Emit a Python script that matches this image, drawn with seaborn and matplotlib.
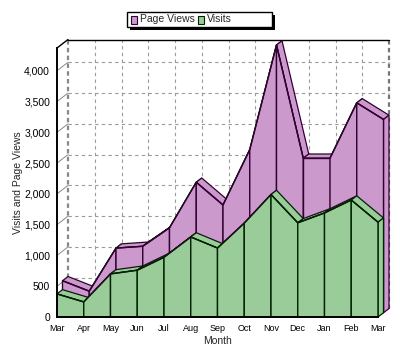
import numpy as np
import matplotlib
matplotlib.use("Agg")
import matplotlib.pyplot as plt
import matplotlib.transforms as mtransforms
from matplotlib.patches import Polygon, Rectangle, ConnectionPatch
from matplotlib.ticker import FuncFormatter, MultipleLocator
import seaborn as sns

# data
months = ["Mar", "Apr", "May", "Jun", "Jul", "Aug", "Sep", "Oct", "Nov", "Dec", "Jan", "Feb", "Mar"]
page_views = [520, 350, 1050, 1080, 1380, 2120, 1750, 2650, 4350, 2510, 2510, 3410, 3140]
visits = [375, 245, 700, 760, 970, 1300, 1120, 1525, 1990, 1530, 1690, 1900, 1540]
series_names = ["Page Views", "Visits"]
fill_colors = ["#CC99CC", "#99CC99"]
edge_colors = ["#330033", "#002200"]

sns.set_style("white")
plt.rcParams["font.family"] = ["Liberation Sans", "DejaVu Sans"]

DPI = 100
W, H = 400, 356
fig = plt.figure(figsize=(W / DPI, H / DPI), dpi=DPI)
ax = fig.add_axes([57 / W, 39 / H, 321 / W, 269 / H])
ax.set_facecolor("none")
ymax = 4370
ax.set_xlim(0, len(months) - 1)
ax.set_ylim(0, ymax)

# 3d depth offsets in pixels (right, up)
WALL = (11, 8.5)
depths = [((5.5, 4.25), WALL), ((0, 0), (5.5, 4.25))]


def shifted(off):
    return ax.transData + mtransforms.ScaledTranslation(off[0] / DPI, off[1] / DPI, fig.dpi_scale_trans)


def px(xv, yv, off):
    p = ax.transData.transform((xv, yv))
    return (p[0] + off[0], p[1] + off[1])


ident = mtransforms.IdentityTransform()
x = np.arange(len(months))
xmax = x[-1]

# back wall with dashed grid
wall = shifted(WALL)
ax.add_patch(Rectangle((0, 0), xmax, ymax, transform=wall, facecolor="white",
                       edgecolor="none", zorder=0, clip_on=False))
yticks = np.arange(0, 4001, 500)
for v in yticks[1:]:
    ax.plot([0, xmax], [v, v], transform=wall, color="#999999", lw=0.8,
            ls=(0, (3, 3)), clip_on=False, zorder=1)
    ax.add_artist(ConnectionPatch((0, v), (0, v), coordsA=ax.transData, coordsB=wall,
                                  color="#888888", lw=0.7, zorder=1))
for i in x[1:-1]:
    ax.plot([i, i], [0, ymax], transform=wall, color="#999999", lw=0.8,
            ls=(0, (3, 3)), clip_on=False, zorder=1)
ax.plot([0, 0], [0, ymax], transform=wall, color="#888888", lw=1.6,
        ls=(0, (2, 1.5)), clip_on=False, zorder=1)
ax.plot([xmax, xmax], [0, ymax], transform=wall, color="#777777", lw=1.6,
        ls=(0, (2, 1.5)), clip_on=False, zorder=1)
ax.plot([0, xmax], [ymax, ymax], transform=wall, color="black", lw=1.0,
        clip_on=False, zorder=1)
ax.add_artist(ConnectionPatch((0, ymax), (0, ymax), coordsA=ax.transData, coordsB=wall,
                              color="black", lw=1.0, zorder=1))

# area slabs, back series first
z = 2
for name, vals, fc, ec, (front, back) in zip(series_names, [page_views, visits],
                                             fill_colors, edge_colors, depths):
    # top surface
    for i in range(len(x) - 1):
        pts = [px(x[i], vals[i], front), px(x[i + 1], vals[i + 1], front),
               px(x[i + 1], vals[i + 1], back), px(x[i], vals[i], back)]
        ax.add_patch(Polygon(pts, closed=True, transform=ident, facecolor=fc,
                             edgecolor=ec, lw=0.9, zorder=z, clip_on=False))
        z += 1
    # right side
    pts = [px(xmax, 0, front), px(xmax, vals[-1], front),
           px(xmax, vals[-1], back), px(xmax, 0, back)]
    ax.add_patch(Polygon(pts, closed=True, transform=ident, facecolor=fc,
                         edgecolor=ec, lw=0.9, zorder=z, clip_on=False))
    z += 1
    # front face
    for i in range(len(x) - 1):
        pts = [px(x[i], 0, front), px(x[i], vals[i], front),
               px(x[i + 1], vals[i + 1], front), px(x[i + 1], 0, front)]
        ax.add_patch(Polygon(pts, closed=True, transform=ident, facecolor=fc,
                             edgecolor=ec, lw=1.0, zorder=z, clip_on=False))
        z += 1
    sns.lineplot(x=x, y=vals, ax=ax, color=ec, lw=1.0, transform=shifted(front),
                 zorder=z, clip_on=False, legend=False)
    z += 1

# axes, ticks, labels
for s in ["top", "right"]:
    ax.spines[s].set_visible(False)
for s in ["left", "bottom"]:
    ax.spines[s].set_color("black")
    ax.spines[s].set_linewidth(1.4)
    ax.spines[s].set_zorder(z + 1)
ax.set_xticks(x)
ax.set_xticklabels(months)
ax.xaxis.set_minor_locator(MultipleLocator(0.25))
ax.set_yticks(yticks)
ax.yaxis.set_major_formatter(FuncFormatter(lambda v, p: f"{v:,.0f}"))
ax.tick_params(axis="both", which="major", direction="out", length=3, width=0.8,
               colors="black", pad=2)
ax.tick_params(axis="x", which="major", labelsize=6.5)
ax.tick_params(axis="y", which="major", labelsize=7.5)
ax.tick_params(axis="x", which="minor", direction="out", length=1.5, width=0.6)
ax.set_xlabel("Month", fontsize=7.5, labelpad=2)
ax.set_ylabel("Visits and Page Views", fontsize=7.5, labelpad=1)

# legend box with hard shadow
def fig_px(xp, yp):
    return (xp, H - yp)

fig.add_artist(Rectangle(fig_px(130, 30), 145, 15, transform=ident,
                         facecolor="black", edgecolor="black", lw=0))
fig.add_artist(Rectangle(fig_px(127, 27), 145, 15, transform=ident,
                         facecolor="white", edgecolor="black", lw=1.0))
for (sx, tx), name, fc, ec in zip([(131, 140), (198, 207)], series_names,
                                  fill_colors, edge_colors):
    fig.add_artist(Rectangle(fig_px(sx, 24), 6, 8, transform=ident,
                             facecolor=fc, edgecolor=ec, lw=0.8))
    fig.text(tx / W, 1 - 19.5 / H, name, fontsize=7.5, va="center", ha="left")

fig.savefig("out.png", dpi=DPI)
